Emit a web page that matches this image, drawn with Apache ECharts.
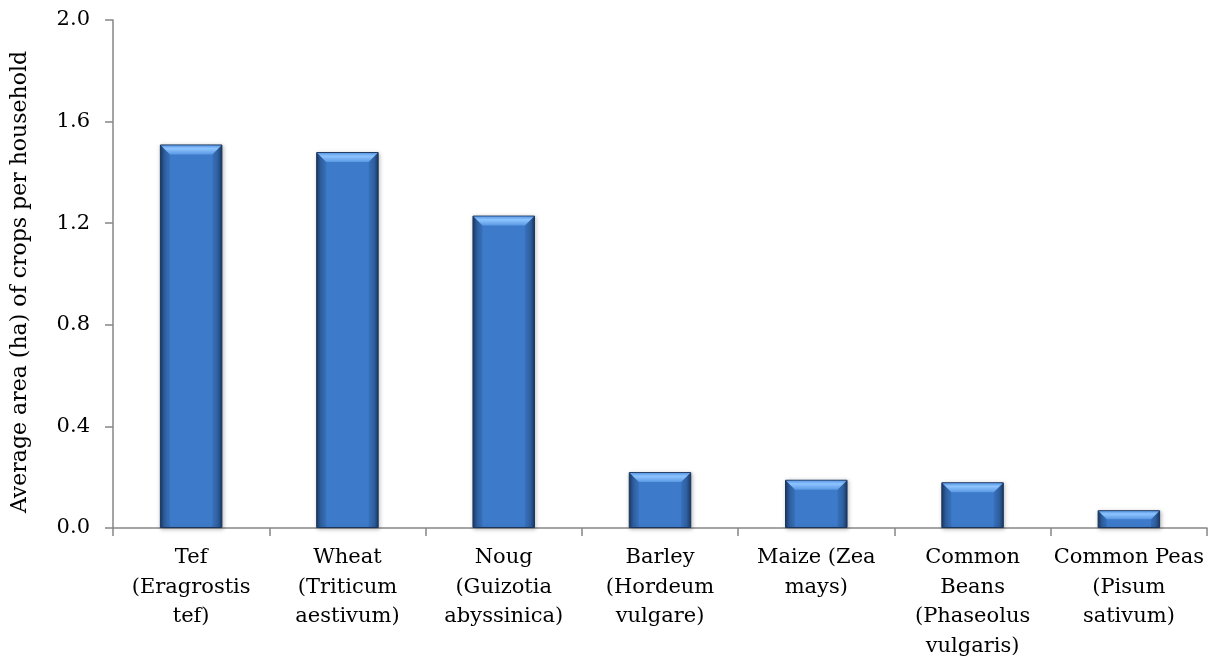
<!DOCTYPE html>
<html>
<head>
<meta charset="utf-8">
<script src="https://cdn.jsdelivr.net/npm/echarts@6/dist/echarts.min.js"></script>
<style>
html,body{margin:0;padding:0;background:#fff;}
#chart{width:1209px;height:666px;}
</style>
</head>
<body>
<div id="chart"></div>
<script>
var categories = [
  'Tef\n(Eragrostis\ntef)',
  'Wheat\n(Triticum\naestivum)',
  'Noug\n(Guizotia\nabyssinica)',
  'Barley\n(Hordeum\nvulgare)',
  'Maize (Zea\nmays)',
  'Common\nBeans\n(Phaseolus\nvulgaris)',
  'Common Peas\n(Pisum\nsativum)'
];
var areaValues = [1.51, 1.48, 1.23, 0.22, 0.19, 0.18, 0.07];
var yTicks = [0.0, 0.4, 0.8, 1.2, 1.6, 2.0];

var FONT = 'DejaVu Serif';
var BAR_RATIO = 0.4;

var chart = echarts.init(document.getElementById('chart'), null, {renderer: 'canvas'});

var bodyGradient = new echarts.graphic.LinearGradient(0, 0, 1, 0, [
  {offset: 0, color: '#1a3a66'},
  {offset: 0.07, color: '#3366a8'},
  {offset: 0.16, color: '#3d7bca'},
  {offset: 0.84, color: '#3d7bca'},
  {offset: 0.93, color: '#3366a8'},
  {offset: 1, color: '#1a3a66'}
]);

var option = {
  animation: false,
  backgroundColor: '#ffffff',
  textStyle: {fontFamily: FONT},
  grid: {left: 113, right: 2, top: 20, bottom: 138},
  xAxis: {
    type: 'category',
    data: categories,
    axisLine: {lineStyle: {color: '#868686', width: 1.5}},
    axisTick: {show: true, length: 8, lineStyle: {color: '#868686', width: 1.5}},
    axisLabel: {
      interval: 0,
      margin: 15,
      color: '#000',
      fontFamily: FONT,
      fontSize: 21,
      lineHeight: 29.5,
      align: 'center'
    }
  },
  yAxis: {
    type: 'value',
    min: 0,
    max: 2.0,
    interval: 0.4,
    name: 'Average area (ha) of crops per household',
    nameLocation: 'middle',
    nameGap: 82,
    nameTextStyle: {color: '#000', fontFamily: FONT, fontSize: 22, padding: [0, 16, 0, 0]},
    axisLine: {show: true, lineStyle: {color: '#868686', width: 1.5}},
    axisTick: {show: true, length: 8, lineStyle: {color: '#868686', width: 1.5}},
    splitLine: {show: false},
    axisLabel: {
      margin: 23,
      color: '#000',
      fontFamily: FONT,
      fontSize: 21,
      formatter: function (v) { return v.toFixed(1); }
    }
  },
  series: [
    {
      type: 'bar',
      data: areaValues,
      barWidth: (BAR_RATIO * 100) + '%',
      itemStyle: {
        color: bodyGradient,
        borderColor: '#1b355c',
        borderWidth: 1,
        shadowColor: 'rgba(0,0,0,0.25)',
        shadowBlur: 4,
        shadowOffsetX: 1,
        shadowOffsetY: 1
      },
      z: 2
    },
    {
      type: 'custom',
      data: areaValues.map(function (v, i) { return [i, v]; }),
      z: 3,
      silent: true,
      renderItem: function (params, api) {
        var top = api.coord([api.value(0), api.value(1)]);
        var bottom = api.coord([api.value(0), 0]);
        var band = api.size([1, 0])[0];
        var w = band * BAR_RATIO;
        var x0 = top[0] - w / 2 + 1;
        var x1 = top[0] + w / 2 - 1;
        var y0 = top[1] + 1;
        var h = Math.min(9, (bottom[1] - top[1]) * 0.45);
        return {
          type: 'group',
          children: [
            {
              type: 'polygon',
              shape: {points: [[x0, y0], [x1, y0], [x1 - h, y0 + h], [x0 + h, y0 + h]]},
              style: {
                fill: new echarts.graphic.LinearGradient(0, 0, 0, 1, [
                  {offset: 0, color: '#5d9be6'},
                  {offset: 0.35, color: '#8ec4ff'},
                  {offset: 1, color: '#5a98e3'}
                ])
              }
            },
            {
              type: 'polygon',
              shape: {points: [[x0, y0], [x0 + h, y0 + h], [x0 + h, bottom[1] - 1], [x0, bottom[1] - 1]]},
              style: {fill: 'rgba(20,45,85,0.12)'}
            },
            {
              type: 'polygon',
              shape: {points: [[x1, y0], [x1 - h, y0 + h], [x1 - h, bottom[1] - 1], [x1, bottom[1] - 1]]},
              style: {fill: 'rgba(20,45,85,0.12)'}
            }
          ]
        };
      }
    }
  ]
};
chart.setOption(option);
</script>
</body>
</html>
